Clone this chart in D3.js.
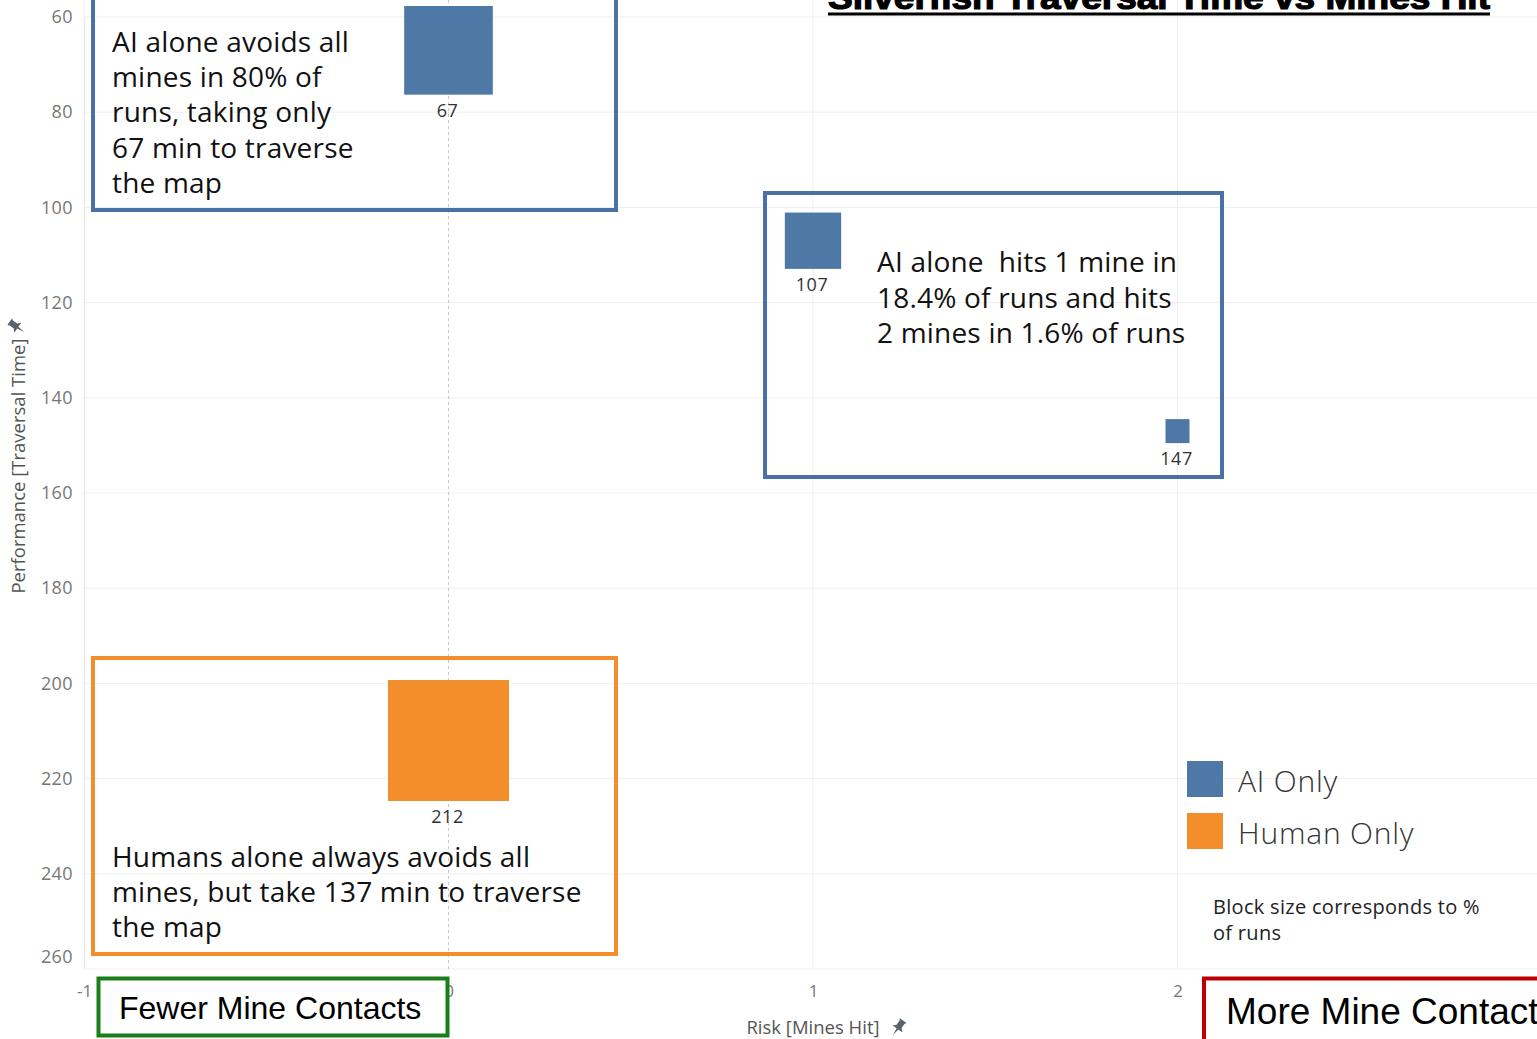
<!DOCTYPE html>
<html>
<head>
<meta charset="utf-8">
<script src="https://cdn.jsdelivr.net/npm/d3@7"></script>
<style>
  html, body { margin: 0; padding: 0; background: #fff; overflow: hidden; }
  svg { display: block; }
</style>
</head>
<body>
<div id="chart"></div>
<script>
// Datos del gráfico
const groups = ['AI Only', 'AI Only', 'AI Only', 'Human Only'];
const minesHit = [0, 1, 2, 0];
const traversalTime = [67, 107, 147, 212];
const pctRuns = [80, 18.4, 1.6, 100];
const legendLabels = ['AI Only', 'Human Only'];
const xTicks = [-1, 0, 1, 2, 3];
const yTicks = [60, 80, 100, 120, 140, 160, 180, 200, 220, 240, 260];

const W = 1537, H = 1039;
const BLUE = '#4e79a7', ORANGE = '#f28e2b';
const FONT = '"Open Sans", "Noto Sans", sans-serif';
const ARIAL = '"Liberation Sans", Arial, sans-serif';

const svg = d3.select('#chart').append('svg')
    .attr('width', W).attr('height', H);

const x = d3.scaleLinear().domain([-1, 3]).range([84, 1542]);
const y = d3.scaleLinear().domain([60, 260]).range([17, 969]);
const color = d3.scaleOrdinal().domain(legendLabels).range([BLUE, ORANGE]);

// tamaño del bloque según el orden del % de corridas
const sortedPct = pctRuns.slice().sort((a, b) => a - b);
const size = d3.scaleLinear().domain([0, sortedPct.length - 1]).range([24, 121]);
const sideOf = p => size(sortedPct.indexOf(p));

// Rejilla
const grid = svg.append('g');
grid.selectAll('line.h')
    .data(yTicks)
    .join('line')
    .attr('x1', 84).attr('x2', W)
    .attr('y1', d => y(d)).attr('y2', d => y(d))
    .attr('stroke', '#efefef').attr('stroke-width', 1);
grid.selectAll('line.v')
    .data(xTicks.filter(d => d !== 0))
    .join('line')
    .attr('x1', d => x(d)).attr('x2', d => x(d))
    .attr('y1', 0).attr('y2', y(260))
    .attr('stroke', '#efefef').attr('stroke-width', 1);
grid.append('line')
    .attr('x1', x(0)).attr('x2', x(0))
    .attr('y1', 0).attr('y2', y(260))
    .attr('stroke', '#c8c8c8').attr('stroke-width', 1)
    .attr('stroke-dasharray', '3,3');

// Ejes
const yAxis = svg.append('g')
    .attr('transform', 'translate(84,0)')
    .call(d3.axisLeft(y).tickValues(yTicks).tickSize(0).tickPadding(11));
yAxis.select('.domain').attr('stroke', '#eaeaea');
yAxis.selectAll('text')
    .attr('font-family', FONT).attr('font-size', 18).attr('letter-spacing', 0.4)
    .attr('fill', '#777')
    .attr('dy', d => d === 260 ? '-0.35em' : '0.32em');

const xAxis = svg.append('g')
    .attr('transform', `translate(0,${y(260)})`)
    .call(d3.axisBottom(x).tickValues(xTicks).tickFormat(d => String(d))
        .tickSize(0).tickPadding(16));
xAxis.select('.domain').remove();
xAxis.selectAll('text')
    .attr('font-family', FONT).attr('font-size', 17).attr('fill', '#777');

// Títulos de ejes
svg.append('text')
    .attr('x', 813).attr('y', 1034)
    .attr('text-anchor', 'middle')
    .attr('font-family', FONT).attr('font-size', 18.5).attr('fill', '#555')
    .text('Risk [Mines Hit]');
svg.append('text')
    .attr('transform', 'translate(25,466) rotate(-90)')
    .attr('text-anchor', 'middle')
    .attr('font-family', FONT).attr('font-size', 18.5).attr('fill', '#555')
    .text('Performance [Traversal Time]');

function pin(tx, ty, rot) {
    svg.append('path')
        .attr('transform', `translate(${tx},${ty}) rotate(${rot})`)
        .attr('d', 'M-4,-9 L4,-9 L3,-7 L3,-2 L6,1 L1,1 L0,9 L-1,1 L-6,1 L-3,-2 L-3,-7 Z')
        .attr('fill', '#5a6270');
}
pin(898, 1028, 35);
pin(17, 327, -55);

// Título (recortado arriba)
svg.append('text')
    .attr('x', 828).attr('y', 9)
    .attr('font-family', ARIAL)
    .attr('font-weight', 'bold').attr('font-size', 34)
    .attr('stroke', '#000').attr('stroke-width', 1.2)
    .attr('textLength', 662).attr('lengthAdjust', 'spacingAndGlyphs')
    .text('Silverfish Traversal Time vs Mines Hit');
svg.append('rect')
    .attr('x', 828).attr('y', 12.5).attr('width', 662).attr('height', 3)
    .attr('fill', '#000');

// Bloques
const marks = d3.range(groups.length).map(i => ({
    g: groups[i], m: minesHit[i], t: traversalTime[i], p: pctRuns[i]
}));
svg.append('g').selectAll('rect')
    .data(marks)
    .join('rect')
    .attr('x', d => x(d.m) - sideOf(d.p) / 2)
    .attr('y', d => y(d.t) - sideOf(d.p) / 2)
    .attr('width', d => sideOf(d.p))
    .attr('height', d => sideOf(d.p))
    .attr('fill', d => color(d.g));
svg.append('g').selectAll('text')
    .data(marks)
    .join('text')
    .attr('x', d => x(d.m) - 1)
    .attr('y', d => y(d.t) + sideOf(d.p) / 2 + 22)
    .attr('text-anchor', 'middle')
    .attr('font-family', FONT).attr('font-size', 18).attr('letter-spacing', 0.5)
    .attr('fill', '#333')
    .text(d => d.t);

// Cajas de anotación
function box(x0, y0, w, h, stroke, fill) {
    svg.append('rect')
        .attr('x', x0).attr('y', y0).attr('width', w).attr('height', h)
        .attr('fill', fill || 'none')
        .attr('stroke', stroke).attr('stroke-width', 4);
}
function lines(x0, y0, arr, fs, lh, ls, fillc) {
    const t = svg.append('text')
        .attr('font-family', FONT).attr('font-size', fs)
        .attr('letter-spacing', ls).attr('fill', fillc || '#111');
    arr.forEach((s, i) => {
        t.append('tspan').attr('x', x0).attr('y', y0 + i * lh)
            .attr('xml:space', 'preserve').text(s);
    });
}

box(93, -10, 523, 220, '#4a71a6');
lines(112, 52, ['AI alone avoids all', 'mines in 80% of', 'runs, taking only',
    '67 min to traverse', 'the map'], 28, 35.2, 0.2);

box(765, 193, 457, 284, '#4a71a6');
lines(877, 272, ['AI alone  hits 1 mine in', '18.4% of runs and hits',
    '2 mines in 1.6% of runs'], 28, 35.5, 0.2);

box(93, 658, 523, 296, ORANGE);
lines(112, 867, ['Humans alone always avoids all',
    'mines, but take 137 min to traverse', 'the map'], 28, 35.2, 0.2);

box(98.5, 978.5, 349, 57, '#1a7f1a', '#fff');
svg.append('text')
    .attr('x', 119).attr('y', 1019)
    .attr('font-family', ARIAL)
    .attr('font-size', 32).attr('fill', '#000')
    .text('Fewer Mine Contacts');

box(1204, 978.5, 360, 80, '#c00000', '#fff');
svg.append('text')
    .attr('x', 1226).attr('y', 1024)
    .attr('font-family', ARIAL)
    .attr('font-size', 37).attr('fill', '#000')
    .text('More Mine Contacts');

// Leyenda
const leg = svg.append('g');
leg.selectAll('rect')
    .data(legendLabels)
    .join('rect')
    .attr('x', 1187).attr('y', (d, i) => 761 + i * 52)
    .attr('width', 36).attr('height', 36)
    .attr('fill', d => color(d));
leg.selectAll('text')
    .data(legendLabels)
    .join('text')
    .attr('x', 1238).attr('y', (d, i) => 792 + i * 52)
    .attr('font-family', FONT).attr('font-weight', 300)
    .attr('font-size', 30).attr('letter-spacing', 0.8).attr('fill', '#333')
    .text(d => d);

lines(1213, 914, ['Block size corresponds to %', 'of runs'], 20, 26, 0.3, '#222');
</script>
</body>
</html>
